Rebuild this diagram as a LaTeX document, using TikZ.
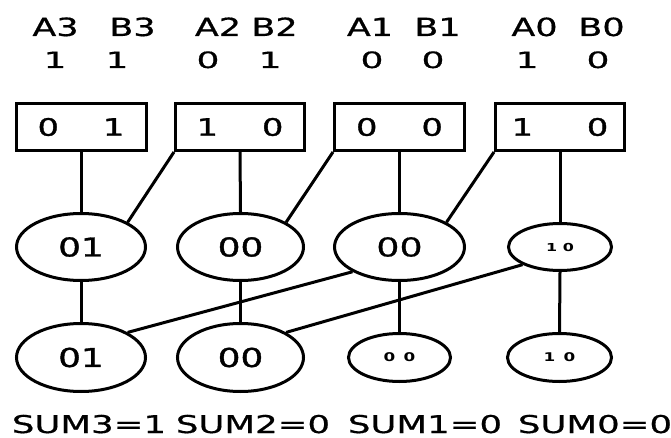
\documentclass[tikz,border=0pt]{standalone}
\usepackage{fontspec}
\usepackage{graphicx}
\setmainfont{DejaVu Sans}
\newfontfamily\semib[FakeBold=1.2]{DejaVu Sans}
\newfontfamily\lightb[FakeBold=0.6]{DejaVu Sans}
\usetikzlibrary{shapes.geometric}
\newcommand{\wx}[2]{\scalebox{#1}[1]{#2}}
\begin{document}
\begin{tikzpicture}[x=1pt,y=-1pt,line width=3pt,
  bitbox/.style={draw,rectangle,minimum width=130pt,minimum height=47pt,inner sep=0pt,
    font=\semib\fontsize{24}{24}\selectfont},
  bigell/.style={draw,ellipse,minimum width=129pt,minimum height=67pt,inner sep=0pt},
  smallell/.style={draw,ellipse,minimum width=103pt,minimum height=47pt,inner sep=0pt},
  bigtxt/.style={font=\semib\fontsize{26}{26}\selectfont},
  midtxt/.style={font=\lightb\fontsize{26}{26}\selectfont},
  tinytxt/.style={font=\bfseries\fontsize{11}{11}\selectfont},
  smalltxt/.style={font=\bfseries\fontsize{12}{12}\selectfont},
  hdr/.style={anchor=base,inner sep=0pt,font=\lightb\fontsize{25}{25}\selectfont},
  hdrdig/.style={anchor=base,inner sep=0pt,font=\lightb\fontsize{22.5}{22.5}\selectfont},
  sumlbl/.style={anchor=base,inner sep=0pt,font=\lightb\fontsize{24.5}{24.5}\selectfont}]
\useasboundingbox (0,0) rectangle (671,438);
% header
\node[hdr] (ha3) at (55.5,36) {\wx{1.4}{A3}};
\node[hdr] (hb3) at (132.5,36) {\wx{1.4}{B3}};
\node[hdr] (ha2) at (218,36) {\wx{1.4}{A2}};
\node[hdr] (hb2) at (274.5,36) {\wx{1.4}{B2}};
\node[hdr] (ha1) at (370,36) {\wx{1.4}{A1}};
\node[hdr] (hb1) at (437.5,36) {\wx{1.4}{B1}};
\node[hdr] (ha0) at (534.5,36) {\wx{1.4}{A0}};
\node[hdr] (hb0) at (601.5,36) {\wx{1.4}{B0}};
\node[hdrdig] (va3) at (55,68) {\wx{1.6}{1}};
\node[hdrdig] (vb3) at (117,68) {\wx{1.6}{1}};
\node[hdrdig] (va2) at (208,68) {\wx{1.6}{0}};
\node[hdrdig] (vb2) at (270,68) {\wx{1.6}{1}};
\node[hdrdig] (va1) at (372,68) {\wx{1.6}{0}};
\node[hdrdig] (vb1) at (433,68) {\wx{1.6}{0}};
\node[hdrdig] (va0) at (527,68) {\wx{1.6}{1}};
\node[hdrdig] (vb0) at (598,68) {\wx{1.6}{0}};
% boxes
\node[bitbox] (box3) at (81,127) {\wx{1.4}{\makebox[62pt]{0\hfill1}}};
\node[bitbox,minimum width=129pt] (box2) at (240,127) {\wx{1.4}{\makebox[62pt]{1\hfill0}}};
\node[bitbox] (box1) at (399.5,127) {\wx{1.4}{\makebox[62pt]{0\hfill0}}};
\node[bitbox,minimum width=129pt] (box0) at (560,127) {\wx{1.4}{\makebox[69pt]{1\hfill0}}};
% top ellipses
\node[bigell,bigtxt] (t3) at (81,247) {\wx{1.38}{01}};
\node[bigell,bigtxt,minimum width=126pt] (t2) at (240.5,247) {\wx{1.38}{00}};
\node[bigell,midtxt,minimum width=130pt] (t1) at (399.5,247) {\wx{1.4}{00}};
\node[smallell,tinytxt] (t0) at (560,247) {\wx{1.45}{1 0}};
% bottom ellipses
\node[bigell,bigtxt,minimum height=68pt] (s3) at (81,357.5) {\wx{1.38}{01}};
\node[bigell,bigtxt,minimum width=126pt,minimum height=68pt] (s2) at (240.5,357.5) {\wx{1.38}{00}};
\node[smallell,smalltxt,minimum width=102pt,minimum height=48pt] (s1) at (399.5,357.5) {\wx{1.4}{0\enspace0}};
\node[smallell,smalltxt,minimum width=104pt,minimum height=48pt] (s0) at (559.5,357.5) {\wx{1.4}{1\enspace0}};
% sums
\node[sumlbl] (sum3) at (89,433) {\wx{1.45}{SUM3=1}};
\node[sumlbl] (sum2) at (253,433) {\wx{1.45}{SUM2=0}};
\node[sumlbl] (sum1) at (425,433) {\wx{1.45}{SUM1=0}};
\node[sumlbl] (sum0) at (595,433) {\wx{1.45}{SUM0=0}};
% connectors
\draw (box3.south) -- (t3.north);
\draw (box2.south) -- (t2.north);
\draw (box1.south) -- (t1.north);
\draw (box0.south) -- (t0.north);
\draw (box2.south west) -- (t3.north east);
\draw (box1.south west) -- (t2.north east);
\draw (box0.south west) -- (t1.north east);
\draw (t3.south) -- (s3.north);
\draw (t2.south) -- (s2.north);
\draw (t1.south) -- (s1.north);
\draw (t0.south) -- (s0.north);
\draw (t1.south west) -- (s3.north east);
\draw (t0.south west) -- (s2.north east);
\end{tikzpicture}
\end{document}
